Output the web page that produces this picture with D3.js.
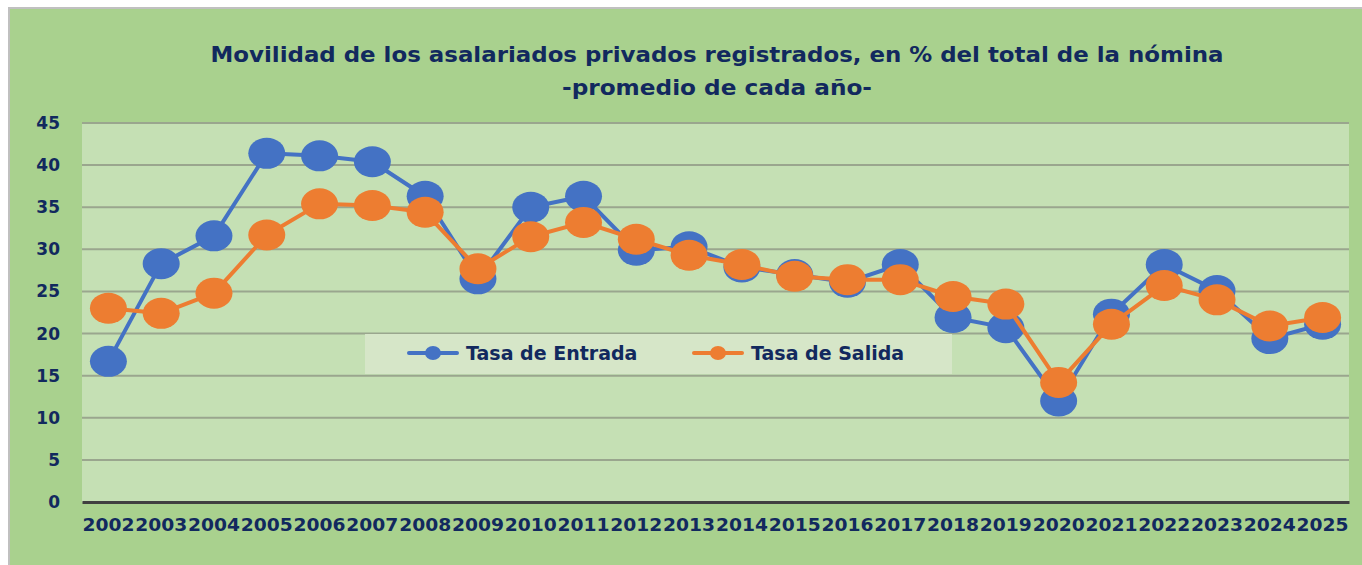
<!DOCTYPE html>
<html>
<head>
<meta charset="utf-8">
<script src="https://cdn.jsdelivr.net/npm/d3@7"></script>
<style>
  html, body { margin: 0; padding: 0; background: #ffffff; }
  svg { display: block; }
</style>
</head>
<body>
<svg id="chart" width="1362" height="565"></svg>
<script>
const years = ["2002","2003","2004","2005","2006","2007","2008","2009","2010","2011","2012","2013","2014","2015","2016","2017","2018","2019","2020","2021","2022","2023","2024","2025"];
const entrada = [16.7,28.3,31.6,41.4,41.1,40.4,36.3,26.5,35.0,36.3,29.9,30.3,27.9,27.0,26.1,28.2,21.9,20.7,12.0,22.3,28.2,25.1,19.4,21.1];
const salida  = [23.0,22.4,24.8,31.7,35.4,35.2,34.4,27.7,31.5,33.2,31.2,29.3,28.2,26.8,26.4,26.4,24.4,23.5,14.2,21.1,25.7,24.0,20.9,21.9];
const yTicks = [0,5,10,15,20,25,30,35,40,45];
const seriesNames = ["Tasa de Entrada","Tasa de Salida"];
const titleLines = ["Movilidad de los asalariados privados registrados, en % del total de la nómina","-promedio de cada año-"];

const svg = d3.select("#chart");
const W = 1362, H = 565;
const font = "Verdana, 'DejaVu Sans', sans-serif";
const navy = "#12295e";
const colors = ["#4472c4", "#ed7d31"];

// frame
svg.append("rect").attr("x", 8).attr("y", 7).attr("width", W - 8).attr("height", H - 7).attr("fill", "#c0c0c0");
svg.append("rect").attr("x", 10).attr("y", 9).attr("width", W - 10).attr("height", H - 9).attr("fill", "#a9d18e");

const m = { left: 82, right: 1349, top: 123, bottom: 502 };
const x = d3.scaleBand().domain(years).range([m.left, m.right]);
const y = d3.scaleLinear().domain([0, 45]).range([m.bottom, m.top]);

// plot area
svg.append("rect").attr("x", m.left).attr("y", m.top).attr("width", m.right - m.left).attr("height", m.bottom - m.top).attr("fill", "#c5e0b4");

// title
const titleLens = [1013, 310];
svg.append("g").selectAll("text").data(titleLines).join("text")
  .attr("x", 717).attr("y", (d, i) => 62 + i * 33)
  .attr("text-anchor", "middle")
  .attr("font-family", font).attr("font-weight", "bold").attr("font-size", 21.5)
  .attr("textLength", (d, i) => titleLens[i]).attr("lengthAdjust", "spacingAndGlyphs")
  .attr("fill", navy).text(d => d);

// gridlines
svg.append("g").selectAll("line").data(yTicks.filter(d => d > 0)).join("line")
  .attr("x1", m.left).attr("x2", m.right)
  .attr("y1", d => y(d)).attr("y2", d => y(d))
  .attr("stroke", "#9aa68e").attr("stroke-width", 2);

// y axis labels
const yAxis = d3.axisLeft(y).tickValues(yTicks).tickSize(0).tickPadding(22);
const gy = svg.append("g").attr("transform", `translate(${m.left},0)`).call(yAxis);
gy.select(".domain").remove();
gy.selectAll("text").attr("font-family", font).attr("font-weight", "bold").attr("font-size", 17).attr("fill", navy);

// x axis
const xAxis = d3.axisBottom(x).tickSize(0).tickPadding(16);
const gx = svg.append("g").attr("transform", `translate(0,${m.bottom})`).call(xAxis);
gx.select(".domain").attr("stroke", "#404040").attr("stroke-width", 3);
gx.selectAll("text").attr("font-family", font).attr("font-weight", "bold").attr("font-size", 18.5)
  .attr("textLength", 52).attr("lengthAdjust", "spacingAndGlyphs").attr("fill", navy);

// legend
const lg = svg.append("g");
lg.append("rect").attr("x", 365).attr("y", 334).attr("width", 587).attr("height", 40).attr("fill", "#d6e6c8");
const legX = [409, 694];
seriesNames.forEach((name, i) => {
  lg.append("line").attr("x1", legX[i]).attr("x2", legX[i] + 48).attr("y1", 353).attr("y2", 353)
    .attr("stroke", colors[i]).attr("stroke-width", 4).attr("stroke-linecap", "round");
  lg.append("ellipse").attr("cx", legX[i] + 24).attr("cy", 353).attr("rx", 8).attr("ry", 7).attr("fill", colors[i]);
  lg.append("text").attr("x", legX[i] + 57).attr("y", 360)
    .attr("font-family", font).attr("font-weight", "bold").attr("font-size", 19)
    .attr("fill", navy).text(name);
});

// series
const line = d3.line().x((d, i) => x(years[i]) + x.bandwidth() / 2).y(d => y(d));
[entrada, salida].forEach((data, k) => {
  const g = svg.append("g");
  g.append("path").datum(data).attr("d", line).attr("fill", "none")
    .attr("stroke", colors[k]).attr("stroke-width", 4).attr("stroke-linejoin", "round");
  g.selectAll("ellipse").data(data).join("ellipse")
    .attr("cx", (d, i) => x(years[i]) + x.bandwidth() / 2)
    .attr("cy", d => y(d))
    .attr("rx", 18.5).attr("ry", 15.5)
    .attr("fill", colors[k]);
});
</script>
</body>
</html>
